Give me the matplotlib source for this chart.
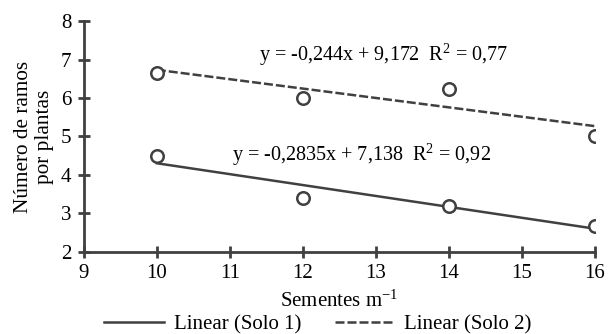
import matplotlib.pyplot as plt
import numpy as np

plt.rcParams['font.family'] = ['Liberation Serif', 'DejaVu Serif']
plt.rcParams['mathtext.fontset'] = 'custom'
plt.rcParams['mathtext.rm'] = 'Liberation Serif'
plt.rcParams['mathtext.it'] = 'Liberation Serif:italic'
plt.rcParams['mathtext.bf'] = 'Liberation Serif:bold'

sementes = [10, 12, 14, 16]
solo1 = [4.5, 3.4, 3.18, 2.67]
solo2 = [6.65, 6.0, 6.23, 5.0]
# coeficientes das retas (a, b) -> y = a*x + b
coef1 = (-0.2835, 7.138)
coef2 = (-0.244, 9.172)
eq1 = 'y = -0,2835x + 7,138  R$^{\\mathregular{2}}$ = 0,92'
eq2 = 'y = -0,244x + 9,172  R$^{\\mathregular{2}}$ = 0,77'

cor = '#404040'
fig = plt.figure(figsize=(6.12, 3.34), dpi=100)
ax = fig.add_axes([0.137, 0.246, 0.835, 0.691])

xs = np.array([sementes[0], sementes[-1]])
ax.plot(xs, coef1[0] * xs + coef1[1], color=cor, lw=1.8, label='Linear (Solo 1)')
ax.plot(xs, coef2[0] * xs + coef2[1], color=cor, lw=1.8, ls=(0, (3.6, 1.2)), label='Linear (Solo 2)')
ax.plot(sementes, solo1, 'o', mfc='white', mec=cor, mew=1.8, ms=9, ls='none')
ax.plot(sementes, solo2, 'o', mfc='white', mec=cor, mew=1.8, ms=9, ls='none')

ax.text(13.1, 7.12, eq2, ha='center', va='center', fontsize=14.5)
ax.text(12.8, 4.52, eq1, ha='center', va='center', fontsize=14.5)

ax.set_xlim(9, 16)
ax.set_ylim(2, 8)
ax.set_xticks(range(9, 17))
ax.set_yticks(range(2, 9))
for s in ['top', 'right']:
    ax.spines[s].set_visible(False)
for s in ['left', 'bottom']:
    ax.spines[s].set_color(cor)
    ax.spines[s].set_linewidth(2)
ax.tick_params(direction='inout', length=8, width=2, color=cor, labelsize=15, pad=5)
ax.set_xlabel('Sementes m$^{\\mathregular{-1}}$', fontsize=15, labelpad=5)
ax.set_ylabel('Número de ramos\npor plantas', fontsize=15.3, linespacing=1.1, labelpad=5)

ax.legend(loc='center', bbox_to_anchor=(0.458, -0.315), ncol=2, frameon=False,
          fontsize=15, handlelength=2.9, columnspacing=1.6, handletextpad=0.45,
          borderpad=0, borderaxespad=0)

fig.savefig('out.png', dpi=100)
